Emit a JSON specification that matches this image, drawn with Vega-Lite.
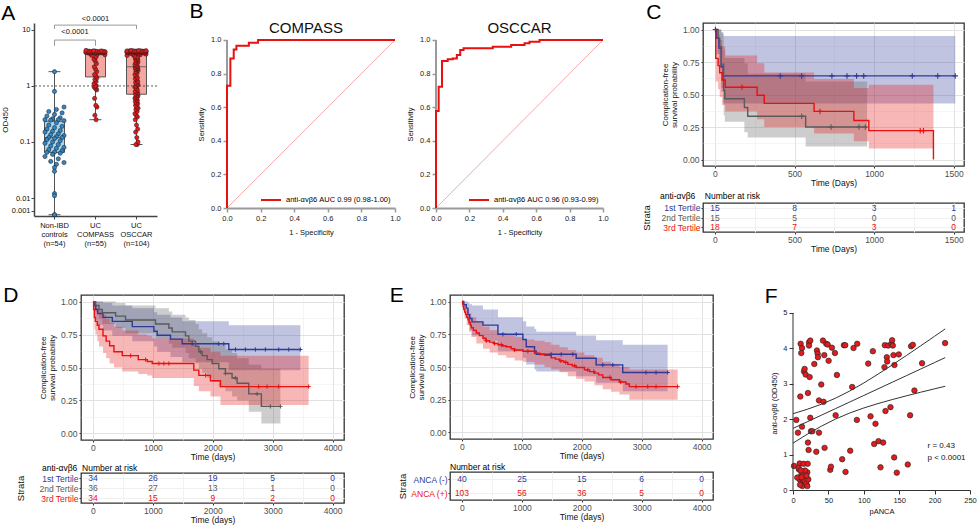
{
"$schema":"https://vega.github.io/schema/vega-lite/v6.json",
"padding":{"left":0,"top":0,"right":0,"bottom":0},
"background":"white",
"config":{"font":"Liberation Sans","view":{"stroke":null},
 "axis":{"labelFont":"Liberation Sans","titleFont":"Liberation Sans","titleFontWeight":"normal","labelFlush":false,"labelOverlap":false,"grid":false,"labelColor":"#222222","titleColor":"#111111","domainColor":"#333333","tickColor":"#333333"},
 "title":{"font":"Liberation Sans","fontWeight":"normal","color":"#000000"},
 "legend":{"labelFont":"Liberation Sans"},"text":{"font":"Liberation Sans"}},
"datasets":{
"a":[
{"g":"Non-IBD controls (n=54)","v":1.8},{"g":"Non-IBD controls (n=54)","v":0.8},{"g":"Non-IBD controls (n=54)","v":0.42},{"g":"Non-IBD controls (n=54)","v":0.38},{"g":"Non-IBD controls (n=54)","v":0.35},{"g":"Non-IBD controls (n=54)","v":0.33},{"g":"Non-IBD controls (n=54)","v":0.31},{"g":"Non-IBD controls (n=54)","v":0.29},{"g":"Non-IBD controls (n=54)","v":0.27},{"g":"Non-IBD controls (n=54)","v":0.26},{"g":"Non-IBD controls (n=54)","v":0.25},{"g":"Non-IBD controls (n=54)","v":0.25},{"g":"Non-IBD controls (n=54)","v":0.245},{"g":"Non-IBD controls (n=54)","v":0.24},{"g":"Non-IBD controls (n=54)","v":0.22},{"g":"Non-IBD controls (n=54)","v":0.2},{"g":"Non-IBD controls (n=54)","v":0.19},{"g":"Non-IBD controls (n=54)","v":0.18},{"g":"Non-IBD controls (n=54)","v":0.17},{"g":"Non-IBD controls (n=54)","v":0.16},{"g":"Non-IBD controls (n=54)","v":0.155},{"g":"Non-IBD controls (n=54)","v":0.15},{"g":"Non-IBD controls (n=54)","v":0.14},{"g":"Non-IBD controls (n=54)","v":0.135},{"g":"Non-IBD controls (n=54)","v":0.13},{"g":"Non-IBD controls (n=54)","v":0.125},{"g":"Non-IBD controls (n=54)","v":0.12},{"g":"Non-IBD controls (n=54)","v":0.12},{"g":"Non-IBD controls (n=54)","v":0.115},{"g":"Non-IBD controls (n=54)","v":0.11},{"g":"Non-IBD controls (n=54)","v":0.105},{"g":"Non-IBD controls (n=54)","v":0.1},{"g":"Non-IBD controls (n=54)","v":0.095},{"g":"Non-IBD controls (n=54)","v":0.09},{"g":"Non-IBD controls (n=54)","v":0.085},{"g":"Non-IBD controls (n=54)","v":0.08},{"g":"Non-IBD controls (n=54)","v":0.077},{"g":"Non-IBD controls (n=54)","v":0.073},{"g":"Non-IBD controls (n=54)","v":0.07},{"g":"Non-IBD controls (n=54)","v":0.066},{"g":"Non-IBD controls (n=54)","v":0.065},{"g":"Non-IBD controls (n=54)","v":0.063},{"g":"Non-IBD controls (n=54)","v":0.06},{"g":"Non-IBD controls (n=54)","v":0.055},{"g":"Non-IBD controls (n=54)","v":0.05},{"g":"Non-IBD controls (n=54)","v":0.045},{"g":"Non-IBD controls (n=54)","v":0.043},{"g":"Non-IBD controls (n=54)","v":0.04},{"g":"Non-IBD controls (n=54)","v":0.035},{"g":"Non-IBD controls (n=54)","v":0.03},{"g":"Non-IBD controls (n=54)","v":0.012},{"g":"Non-IBD controls (n=54)","v":0.011},{"g":"Non-IBD controls (n=54)","v":0.0005},{"g":"Non-IBD controls (n=54)","v":0.0005},
{"g":"UC COMPASS (n=55)","v":0.25},{"g":"UC COMPASS (n=55)","v":0.3},{"g":"UC COMPASS (n=55)","v":0.42},{"g":"UC COMPASS (n=55)","v":0.45},{"g":"UC COMPASS (n=55)","v":0.6},{"g":"UC COMPASS (n=55)","v":0.85},{"g":"UC COMPASS (n=55)","v":0.9},{"g":"UC COMPASS (n=55)","v":0.95},{"g":"UC COMPASS (n=55)","v":1.0},{"g":"UC COMPASS (n=55)","v":1.0},{"g":"UC COMPASS (n=55)","v":1.1},{"g":"UC COMPASS (n=55)","v":1.2},{"g":"UC COMPASS (n=55)","v":1.3},{"g":"UC COMPASS (n=55)","v":1.4},{"g":"UC COMPASS (n=55)","v":1.5},{"g":"UC COMPASS (n=55)","v":1.6},{"g":"UC COMPASS (n=55)","v":1.8},{"g":"UC COMPASS (n=55)","v":2.0},{"g":"UC COMPASS (n=55)","v":2.2},{"g":"UC COMPASS (n=55)","v":2.5},{"g":"UC COMPASS (n=55)","v":2.8},{"g":"UC COMPASS (n=55)","v":3.0},{"g":"UC COMPASS (n=55)","v":3.3},{"g":"UC COMPASS (n=55)","v":3.5},{"g":"UC COMPASS (n=55)","v":3.6},{"g":"UC COMPASS (n=55)","v":3.7},{"g":"UC COMPASS (n=55)","v":3.8},{"g":"UC COMPASS (n=55)","v":3.88},{"g":"UC COMPASS (n=55)","v":3.9},{"g":"UC COMPASS (n=55)","v":3.9},{"g":"UC COMPASS (n=55)","v":3.92},{"g":"UC COMPASS (n=55)","v":3.93},{"g":"UC COMPASS (n=55)","v":3.94},{"g":"UC COMPASS (n=55)","v":3.95},{"g":"UC COMPASS (n=55)","v":3.96},{"g":"UC COMPASS (n=55)","v":3.97},{"g":"UC COMPASS (n=55)","v":3.98},{"g":"UC COMPASS (n=55)","v":3.99},{"g":"UC COMPASS (n=55)","v":4.0},{"g":"UC COMPASS (n=55)","v":4.0},{"g":"UC COMPASS (n=55)","v":4.0},{"g":"UC COMPASS (n=55)","v":4.02},{"g":"UC COMPASS (n=55)","v":4.05},{"g":"UC COMPASS (n=55)","v":4.05},{"g":"UC COMPASS (n=55)","v":4.08},{"g":"UC COMPASS (n=55)","v":4.1},{"g":"UC COMPASS (n=55)","v":4.1},{"g":"UC COMPASS (n=55)","v":4.12},{"g":"UC COMPASS (n=55)","v":4.15},{"g":"UC COMPASS (n=55)","v":4.15},{"g":"UC COMPASS (n=55)","v":4.18},{"g":"UC COMPASS (n=55)","v":4.2},{"g":"UC COMPASS (n=55)","v":4.22},{"g":"UC COMPASS (n=55)","v":4.25},{"g":"UC COMPASS (n=55)","v":4.3},
{"g":"UC OSCCAR (n=104)","v":0.09},{"g":"UC OSCCAR (n=104)","v":0.09},{"g":"UC OSCCAR (n=104)","v":0.1},{"g":"UC OSCCAR (n=104)","v":0.12},{"g":"UC OSCCAR (n=104)","v":0.15},{"g":"UC OSCCAR (n=104)","v":0.17},{"g":"UC OSCCAR (n=104)","v":0.2},{"g":"UC OSCCAR (n=104)","v":0.25},{"g":"UC OSCCAR (n=104)","v":0.28},{"g":"UC OSCCAR (n=104)","v":0.3},{"g":"UC OSCCAR (n=104)","v":0.32},{"g":"UC OSCCAR (n=104)","v":0.35},{"g":"UC OSCCAR (n=104)","v":0.38},{"g":"UC OSCCAR (n=104)","v":0.4},{"g":"UC OSCCAR (n=104)","v":0.42},{"g":"UC OSCCAR (n=104)","v":0.45},{"g":"UC OSCCAR (n=104)","v":0.48},{"g":"UC OSCCAR (n=104)","v":0.5},{"g":"UC OSCCAR (n=104)","v":0.52},{"g":"UC OSCCAR (n=104)","v":0.55},{"g":"UC OSCCAR (n=104)","v":0.58},{"g":"UC OSCCAR (n=104)","v":0.6},{"g":"UC OSCCAR (n=104)","v":0.62},{"g":"UC OSCCAR (n=104)","v":0.65},{"g":"UC OSCCAR (n=104)","v":0.67},{"g":"UC OSCCAR (n=104)","v":0.69},
{"g":"UC OSCCAR (n=104)","v":0.72},{"g":"UC OSCCAR (n=104)","v":0.75},{"g":"UC OSCCAR (n=104)","v":0.78},{"g":"UC OSCCAR (n=104)","v":0.8},{"g":"UC OSCCAR (n=104)","v":0.85},{"g":"UC OSCCAR (n=104)","v":0.9},{"g":"UC OSCCAR (n=104)","v":0.95},{"g":"UC OSCCAR (n=104)","v":1.0},{"g":"UC OSCCAR (n=104)","v":1.0},{"g":"UC OSCCAR (n=104)","v":1.05},{"g":"UC OSCCAR (n=104)","v":1.1},{"g":"UC OSCCAR (n=104)","v":1.15},{"g":"UC OSCCAR (n=104)","v":1.2},{"g":"UC OSCCAR (n=104)","v":1.3},{"g":"UC OSCCAR (n=104)","v":1.35},{"g":"UC OSCCAR (n=104)","v":1.4},{"g":"UC OSCCAR (n=104)","v":1.5},{"g":"UC OSCCAR (n=104)","v":1.6},{"g":"UC OSCCAR (n=104)","v":1.7},{"g":"UC OSCCAR (n=104)","v":1.8},{"g":"UC OSCCAR (n=104)","v":1.9},{"g":"UC OSCCAR (n=104)","v":1.95},{"g":"UC OSCCAR (n=104)","v":2.0},{"g":"UC OSCCAR (n=104)","v":2.05},{"g":"UC OSCCAR (n=104)","v":2.1},{"g":"UC OSCCAR (n=104)","v":2.15},
{"g":"UC OSCCAR (n=104)","v":2.25},{"g":"UC OSCCAR (n=104)","v":2.3},{"g":"UC OSCCAR (n=104)","v":2.4},{"g":"UC OSCCAR (n=104)","v":2.5},{"g":"UC OSCCAR (n=104)","v":2.6},{"g":"UC OSCCAR (n=104)","v":2.7},{"g":"UC OSCCAR (n=104)","v":2.8},{"g":"UC OSCCAR (n=104)","v":2.9},{"g":"UC OSCCAR (n=104)","v":3.0},{"g":"UC OSCCAR (n=104)","v":3.1},{"g":"UC OSCCAR (n=104)","v":3.2},{"g":"UC OSCCAR (n=104)","v":3.3},{"g":"UC OSCCAR (n=104)","v":3.4},{"g":"UC OSCCAR (n=104)","v":3.5},{"g":"UC OSCCAR (n=104)","v":3.6},{"g":"UC OSCCAR (n=104)","v":3.65},{"g":"UC OSCCAR (n=104)","v":3.7},{"g":"UC OSCCAR (n=104)","v":3.75},{"g":"UC OSCCAR (n=104)","v":3.8},{"g":"UC OSCCAR (n=104)","v":3.85},{"g":"UC OSCCAR (n=104)","v":3.9},{"g":"UC OSCCAR (n=104)","v":3.92},{"g":"UC OSCCAR (n=104)","v":3.95},{"g":"UC OSCCAR (n=104)","v":3.97},{"g":"UC OSCCAR (n=104)","v":3.98},{"g":"UC OSCCAR (n=104)","v":3.99},
{"g":"UC OSCCAR (n=104)","v":4.01},{"g":"UC OSCCAR (n=104)","v":4.02},{"g":"UC OSCCAR (n=104)","v":4.03},{"g":"UC OSCCAR (n=104)","v":4.05},{"g":"UC OSCCAR (n=104)","v":4.05},{"g":"UC OSCCAR (n=104)","v":4.06},{"g":"UC OSCCAR (n=104)","v":4.08},{"g":"UC OSCCAR (n=104)","v":4.08},{"g":"UC OSCCAR (n=104)","v":4.1},{"g":"UC OSCCAR (n=104)","v":4.1},{"g":"UC OSCCAR (n=104)","v":4.1},{"g":"UC OSCCAR (n=104)","v":4.12},{"g":"UC OSCCAR (n=104)","v":4.12},{"g":"UC OSCCAR (n=104)","v":4.14},{"g":"UC OSCCAR (n=104)","v":4.15},{"g":"UC OSCCAR (n=104)","v":4.15},{"g":"UC OSCCAR (n=104)","v":4.17},{"g":"UC OSCCAR (n=104)","v":4.18},{"g":"UC OSCCAR (n=104)","v":4.2},{"g":"UC OSCCAR (n=104)","v":4.2},{"g":"UC OSCCAR (n=104)","v":4.22},{"g":"UC OSCCAR (n=104)","v":4.24},{"g":"UC OSCCAR (n=104)","v":4.25},{"g":"UC OSCCAR (n=104)","v":4.27},{"g":"UC OSCCAR (n=104)","v":4.28},{"g":"UC OSCCAR (n=104)","v":4.3}
],
"rc":[{"fpr":0,"tpr":0,"lab":"anti-αvβ6 AUC 0.99 (0.98-1.00)"},{"fpr":0,"tpr":0.728,"lab":"anti-αvβ6 AUC 0.99 (0.98-1.00)"},{"fpr":0.02,"tpr":0.89,"lab":"anti-αvβ6 AUC 0.99 (0.98-1.00)"},{"fpr":0.04,"tpr":0.944,"lab":"anti-αvβ6 AUC 0.99 (0.98-1.00)"},{"fpr":0.056,"tpr":0.966,"lab":"anti-αvβ6 AUC 0.99 (0.98-1.00)"},{"fpr":0.13,"tpr":0.984,"lab":"anti-αvβ6 AUC 0.99 (0.98-1.00)"},{"fpr":0.185,"tpr":1,"lab":"anti-αvβ6 AUC 0.99 (0.98-1.00)"},{"fpr":1,"tpr":1,"lab":"anti-αvβ6 AUC 0.99 (0.98-1.00)"}],
"ro":[{"fpr":0,"tpr":0,"lab":"anti-αvβ6 AUC 0.96 (0.93-0.99)"},{"fpr":0,"tpr":0.577,"lab":"anti-αvβ6 AUC 0.96 (0.93-0.99)"},{"fpr":0.016,"tpr":0.722,"lab":"anti-αvβ6 AUC 0.96 (0.93-0.99)"},{"fpr":0.036,"tpr":0.875,"lab":"anti-αvβ6 AUC 0.96 (0.93-0.99)"},{"fpr":0.07,"tpr":0.885,"lab":"anti-αvβ6 AUC 0.96 (0.93-0.99)"},{"fpr":0.1,"tpr":0.89,"lab":"anti-αvβ6 AUC 0.96 (0.93-0.99)"},{"fpr":0.125,"tpr":0.911,"lab":"anti-αvβ6 AUC 0.96 (0.93-0.99)"},{"fpr":0.145,"tpr":0.94,"lab":"anti-αvβ6 AUC 0.96 (0.93-0.99)"},{"fpr":0.165,"tpr":0.95,"lab":"anti-αvβ6 AUC 0.96 (0.93-0.99)"},{"fpr":0.34,"tpr":0.96,"lab":"anti-αvβ6 AUC 0.96 (0.93-0.99)"},{"fpr":0.45,"tpr":0.97,"lab":"anti-αvβ6 AUC 0.96 (0.93-0.99)"},{"fpr":0.53,"tpr":0.98,"lab":"anti-αvβ6 AUC 0.96 (0.93-0.99)"},{"fpr":0.56,"tpr":0.99,"lab":"anti-αvβ6 AUC 0.96 (0.93-0.99)"},{"fpr":0.62,"tpr":1,"lab":"anti-αvβ6 AUC 0.96 (0.93-0.99)"},{"fpr":1,"tpr":1,"lab":"anti-αvβ6 AUC 0.96 (0.93-0.99)"}],
"kc_l":[{"s":"1st Tertile","t":0,"p":1},{"s":"1st Tertile","t":10,"p":0.933},{"s":"1st Tertile","t":25,"p":0.857},{"s":"1st Tertile","t":40,"p":0.714},{"s":"1st Tertile","t":52,"p":0.643},{"s":"1st Tertile","t":1510,"p":0.643},
{"s":"2nd Tertile","t":0,"p":1},{"s":"2nd Tertile","t":20,"p":0.933},{"s":"2nd Tertile","t":30,"p":0.867},{"s":"2nd Tertile","t":40,"p":0.733},{"s":"2nd Tertile","t":55,"p":0.533},{"s":"2nd Tertile","t":62,"p":0.467},{"s":"2nd Tertile","t":185,"p":0.4},{"s":"2nd Tertile","t":206,"p":0.333},{"s":"2nd Tertile","t":570,"p":0.25},{"s":"2nd Tertile","t":956,"p":0.25},
{"s":"3rd Tertile","t":0,"p":1},{"s":"3rd Tertile","t":5,"p":0.778},{"s":"3rd Tertile","t":20,"p":0.722},{"s":"3rd Tertile","t":30,"p":0.667},{"s":"3rd Tertile","t":45,"p":0.611},{"s":"3rd Tertile","t":65,"p":0.556},{"s":"3rd Tertile","t":265,"p":0.494},{"s":"3rd Tertile","t":310,"p":0.432},{"s":"3rd Tertile","t":623,"p":0.37},{"s":"3rd Tertile","t":873,"p":0.3},{"s":"3rd Tertile","t":967,"p":0.222},{"s":"3rd Tertile","t":1373,"p":0}],
"kc_ci":[{"s":"1st Tertile","t":0,"lo":1,"hi":1},{"s":"1st Tertile","t":10,"lo":0.81,"hi":1},{"s":"1st Tertile","t":25,"lo":0.7,"hi":1},{"s":"1st Tertile","t":40,"lo":0.52,"hi":0.98},{"s":"1st Tertile","t":52,"lo":0.43,"hi":0.95},{"s":"1st Tertile","t":1510,"lo":0.43,"hi":0.95},
{"s":"2nd Tertile","t":0,"lo":1,"hi":1},{"s":"2nd Tertile","t":20,"lo":0.81,"hi":1},{"s":"2nd Tertile","t":30,"lo":0.71,"hi":1},{"s":"2nd Tertile","t":40,"lo":0.55,"hi":0.97},{"s":"2nd Tertile","t":55,"lo":0.34,"hi":0.84},{"s":"2nd Tertile","t":62,"lo":0.29,"hi":0.78},{"s":"2nd Tertile","t":185,"lo":0.21,"hi":0.74},{"s":"2nd Tertile","t":206,"lo":0.17,"hi":0.66},{"s":"2nd Tertile","t":570,"lo":0.1,"hi":0.6},{"s":"2nd Tertile","t":956,"lo":0.1,"hi":0.6},
{"s":"3rd Tertile","t":0,"lo":1,"hi":1},{"s":"3rd Tertile","t":5,"lo":0.6,"hi":0.99},{"s":"3rd Tertile","t":20,"lo":0.54,"hi":0.96},{"s":"3rd Tertile","t":30,"lo":0.48,"hi":0.92},{"s":"3rd Tertile","t":45,"lo":0.42,"hi":0.87},{"s":"3rd Tertile","t":65,"lo":0.37,"hi":0.8},{"s":"3rd Tertile","t":265,"lo":0.31,"hi":0.74},{"s":"3rd Tertile","t":310,"lo":0.25,"hi":0.67},{"s":"3rd Tertile","t":623,"lo":0.2,"hi":0.62},{"s":"3rd Tertile","t":873,"lo":0.14,"hi":0.55},{"s":"3rd Tertile","t":967,"lo":0.085,"hi":0.575},{"s":"3rd Tertile","t":1373,"lo":0.085,"hi":0.575}],
"kc_c":[{"s":"1st Tertile","t":3,"p":1},{"s":"1st Tertile","t":410,"p":0.643},{"s":"1st Tertile","t":545,"p":0.643},{"s":"1st Tertile","t":735,"p":0.643},{"s":"1st Tertile","t":830,"p":0.643},{"s":"1st Tertile","t":890,"p":0.643},{"s":"1st Tertile","t":935,"p":0.643},{"s":"1st Tertile","t":1240,"p":0.643},{"s":"1st Tertile","t":1400,"p":0.643},{"s":"1st Tertile","t":1510,"p":0.643},
{"s":"2nd Tertile","t":545,"p":0.333},{"s":"2nd Tertile","t":730,"p":0.25},{"s":"2nd Tertile","t":905,"p":0.25},{"s":"2nd Tertile","t":945,"p":0.25},
{"s":"3rd Tertile","t":170,"p":0.556},{"s":"3rd Tertile","t":660,"p":0.37},{"s":"3rd Tertile","t":1290,"p":0.222},{"s":"3rd Tertile","t":1310,"p":0.222}],
"kc_r":[{"s":"1st Tertile","t":0,"n":15},{"s":"1st Tertile","t":500,"n":8},{"s":"1st Tertile","t":1000,"n":3},{"s":"1st Tertile","t":1500,"n":1},{"s":"2nd Tertile","t":0,"n":15},{"s":"2nd Tertile","t":500,"n":5},{"s":"2nd Tertile","t":1000,"n":0},{"s":"2nd Tertile","t":1500,"n":0},{"s":"3rd Tertile","t":0,"n":18},{"s":"3rd Tertile","t":500,"n":7},{"s":"3rd Tertile","t":1000,"n":3},{"s":"3rd Tertile","t":1500,"n":0}],
"kd_l":[{"s":"1st Tertile","t":0,"p":1},{"s":"1st Tertile","t":20,"p":0.97},{"s":"1st Tertile","t":45,"p":0.94},{"s":"1st Tertile","t":80,"p":0.91},{"s":"1st Tertile","t":167,"p":0.88},{"s":"1st Tertile","t":322,"p":0.85},{"s":"1st Tertile","t":656,"p":0.81},{"s":"1st Tertile","t":1017,"p":0.775},{"s":"1st Tertile","t":1072,"p":0.745},{"s":"1st Tertile","t":1294,"p":0.715},{"s":"1st Tertile","t":1489,"p":0.68},{"s":"1st Tertile","t":2267,"p":0.637},{"s":"1st Tertile","t":3461,"p":0.637},
{"s":"2nd Tertile","t":0,"p":1},{"s":"2nd Tertile","t":44,"p":0.97},{"s":"2nd Tertile","t":100,"p":0.94},{"s":"2nd Tertile","t":156,"p":0.915},{"s":"2nd Tertile","t":378,"p":0.89},{"s":"2nd Tertile","t":544,"p":0.86},{"s":"2nd Tertile","t":1044,"p":0.83},{"s":"2nd Tertile","t":1267,"p":0.8},{"s":"2nd Tertile","t":1322,"p":0.77},{"s":"2nd Tertile","t":1544,"p":0.74},{"s":"2nd Tertile","t":1600,"p":0.7},{"s":"2nd Tertile","t":1711,"p":0.66},{"s":"2nd Tertile","t":1767,"p":0.62},{"s":"2nd Tertile","t":1822,"p":0.59},{"s":"2nd Tertile","t":1906,"p":0.56},{"s":"2nd Tertile","t":1989,"p":0.53},{"s":"2nd Tertile","t":2100,"p":0.49},{"s":"2nd Tertile","t":2211,"p":0.455},{"s":"2nd Tertile","t":2322,"p":0.42},{"s":"2nd Tertile","t":2406,"p":0.38},{"s":"2nd Tertile","t":2600,"p":0.3},{"s":"2nd Tertile","t":2811,"p":0.205},{"s":"2nd Tertile","t":3128,"p":0.205},
{"s":"3rd Tertile","t":0,"p":1},{"s":"3rd Tertile","t":10,"p":0.94},{"s":"3rd Tertile","t":25,"p":0.88},{"s":"3rd Tertile","t":40,"p":0.85},{"s":"3rd Tertile","t":72,"p":0.82},{"s":"3rd Tertile","t":100,"p":0.79},{"s":"3rd Tertile","t":167,"p":0.74},{"s":"3rd Tertile","t":220,"p":0.7},{"s":"3rd Tertile","t":278,"p":0.665},{"s":"3rd Tertile","t":350,"p":0.62},{"s":"3rd Tertile","t":489,"p":0.59},{"s":"3rd Tertile","t":756,"p":0.56},{"s":"3rd Tertile","t":906,"p":0.545},{"s":"3rd Tertile","t":989,"p":0.53},{"s":"3rd Tertile","t":1683,"p":0.48},{"s":"3rd Tertile","t":1767,"p":0.44},{"s":"3rd Tertile","t":1961,"p":0.4},{"s":"3rd Tertile","t":2128,"p":0.355},{"s":"3rd Tertile","t":3600,"p":0.355}],
"kd_ci":[{"s":"1st Tertile","t":0,"lo":1,"hi":1},{"s":"1st Tertile","t":20,"lo":0.94,"hi":1},{"s":"1st Tertile","t":45,"lo":0.86,"hi":1},{"s":"1st Tertile","t":80,"lo":0.82,"hi":1},{"s":"1st Tertile","t":167,"lo":0.78,"hi":0.99},{"s":"1st Tertile","t":322,"lo":0.74,"hi":0.97},{"s":"1st Tertile","t":656,"lo":0.7,"hi":0.95},{"s":"1st Tertile","t":1017,"lo":0.66,"hi":0.92},{"s":"1st Tertile","t":1072,"lo":0.62,"hi":0.9},{"s":"1st Tertile","t":1294,"lo":0.58,"hi":0.88},{"s":"1st Tertile","t":1489,"lo":0.54,"hi":0.85},{"s":"1st Tertile","t":2267,"lo":0.48,"hi":0.82},{"s":"1st Tertile","t":3461,"lo":0.48,"hi":0.82},
{"s":"2nd Tertile","t":0,"lo":1,"hi":1},{"s":"2nd Tertile","t":44,"lo":0.92,"hi":1},{"s":"2nd Tertile","t":100,"lo":0.87,"hi":1},{"s":"2nd Tertile","t":156,"lo":0.83,"hi":1},{"s":"2nd Tertile","t":378,"lo":0.8,"hi":0.99},{"s":"2nd Tertile","t":544,"lo":0.76,"hi":0.97},{"s":"2nd Tertile","t":1044,"lo":0.72,"hi":0.95},{"s":"2nd Tertile","t":1267,"lo":0.68,"hi":0.925},{"s":"2nd Tertile","t":1322,"lo":0.65,"hi":0.9},{"s":"2nd Tertile","t":1544,"lo":0.61,"hi":0.88},{"s":"2nd Tertile","t":1600,"lo":0.57,"hi":0.86},{"s":"2nd Tertile","t":1711,"lo":0.53,"hi":0.83},{"s":"2nd Tertile","t":1767,"lo":0.49,"hi":0.79},{"s":"2nd Tertile","t":1822,"lo":0.46,"hi":0.76},{"s":"2nd Tertile","t":1906,"lo":0.42,"hi":0.73},{"s":"2nd Tertile","t":1989,"lo":0.39,"hi":0.7},{"s":"2nd Tertile","t":2100,"lo":0.35,"hi":0.67},{"s":"2nd Tertile","t":2211,"lo":0.32,"hi":0.64},{"s":"2nd Tertile","t":2322,"lo":0.28,"hi":0.61},{"s":"2nd Tertile","t":2406,"lo":0.25,"hi":0.57},{"s":"2nd Tertile","t":2600,"lo":0.165,"hi":0.52},{"s":"2nd Tertile","t":2811,"lo":0.075,"hi":0.49},{"s":"2nd Tertile","t":3128,"lo":0.075,"hi":0.49},
{"s":"3rd Tertile","t":0,"lo":1,"hi":1},{"s":"3rd Tertile","t":10,"lo":0.87,"hi":1},{"s":"3rd Tertile","t":25,"lo":0.79,"hi":0.99},{"s":"3rd Tertile","t":40,"lo":0.75,"hi":0.97},{"s":"3rd Tertile","t":72,"lo":0.7,"hi":0.95},{"s":"3rd Tertile","t":100,"lo":0.66,"hi":0.93},{"s":"3rd Tertile","t":167,"lo":0.61,"hi":0.9},{"s":"3rd Tertile","t":220,"lo":0.57,"hi":0.87},{"s":"3rd Tertile","t":278,"lo":0.53,"hi":0.84},{"s":"3rd Tertile","t":350,"lo":0.5,"hi":0.81},{"s":"3rd Tertile","t":489,"lo":0.47,"hi":0.78},{"s":"3rd Tertile","t":756,"lo":0.45,"hi":0.75},{"s":"3rd Tertile","t":906,"lo":0.44,"hi":0.74},{"s":"3rd Tertile","t":989,"lo":0.42,"hi":0.72},{"s":"3rd Tertile","t":1683,"lo":0.36,"hi":0.68},{"s":"3rd Tertile","t":1767,"lo":0.32,"hi":0.65},{"s":"3rd Tertile","t":1961,"lo":0.28,"hi":0.62},{"s":"3rd Tertile","t":2128,"lo":0.215,"hi":0.59},{"s":"3rd Tertile","t":3600,"lo":0.215,"hi":0.59}],
"kd_c":[{"s":"1st Tertile","t":1656,"p":0.68},{"s":"1st Tertile","t":2100,"p":0.68},{"s":"1st Tertile","t":2183,"p":0.68},{"s":"1st Tertile","t":2378,"p":0.637},{"s":"1st Tertile","t":2544,"p":0.637},{"s":"1st Tertile","t":2711,"p":0.637},{"s":"1st Tertile","t":2878,"p":0.637},{"s":"1st Tertile","t":3100,"p":0.637},{"s":"1st Tertile","t":3267,"p":0.637},{"s":"1st Tertile","t":3461,"p":0.637},
{"s":"2nd Tertile","t":1794,"p":0.62},{"s":"2nd Tertile","t":2211,"p":0.455},{"s":"2nd Tertile","t":2378,"p":0.42},{"s":"2nd Tertile","t":2739,"p":0.3},{"s":"2nd Tertile","t":2961,"p":0.205},{"s":"2nd Tertile","t":3128,"p":0.205},
{"s":"3rd Tertile","t":628,"p":0.59},{"s":"3rd Tertile","t":878,"p":0.56},{"s":"3rd Tertile","t":1100,"p":0.53},{"s":"3rd Tertile","t":1183,"p":0.53},{"s":"3rd Tertile","t":1267,"p":0.53},{"s":"3rd Tertile","t":1880,"p":0.44},{"s":"3rd Tertile","t":2767,"p":0.355},{"s":"3rd Tertile","t":2906,"p":0.355},{"s":"3rd Tertile","t":3100,"p":0.355},{"s":"3rd Tertile","t":3600,"p":0.355}],
"kd_r":[{"s":"1st Tertile","t":0,"n":34},{"s":"1st Tertile","t":1000,"n":26},{"s":"1st Tertile","t":2000,"n":19},{"s":"1st Tertile","t":3000,"n":5},{"s":"1st Tertile","t":4000,"n":0},{"s":"2nd Tertile","t":0,"n":36},{"s":"2nd Tertile","t":1000,"n":27},{"s":"2nd Tertile","t":2000,"n":13},{"s":"2nd Tertile","t":3000,"n":1},{"s":"2nd Tertile","t":4000,"n":0},{"s":"3rd Tertile","t":0,"n":34},{"s":"3rd Tertile","t":1000,"n":15},{"s":"3rd Tertile","t":2000,"n":9},{"s":"3rd Tertile","t":3000,"n":2},{"s":"3rd Tertile","t":4000,"n":0}],
"ke_l":[{"s":"ANCA (-)","t":0,"p":1},{"s":"ANCA (-)","t":30,"p":0.975},{"s":"ANCA (-)","t":72,"p":0.95},{"s":"ANCA (-)","t":100,"p":0.9},{"s":"ANCA (-)","t":128,"p":0.87},{"s":"ANCA (-)","t":167,"p":0.845},{"s":"ANCA (-)","t":350,"p":0.82},{"s":"ANCA (-)","t":600,"p":0.75},{"s":"ANCA (-)","t":1017,"p":0.71},{"s":"ANCA (-)","t":1072,"p":0.655},{"s":"ANCA (-)","t":1211,"p":0.62},{"s":"ANCA (-)","t":1239,"p":0.597},{"s":"ANCA (-)","t":1906,"p":0.567},{"s":"ANCA (-)","t":2239,"p":0.516},{"s":"ANCA (-)","t":2683,"p":0.458},{"s":"ANCA (-)","t":3433,"p":0.458},
{"s":"ANCA (+)","t":0,"p":1},{"s":"ANCA (+)","t":10,"p":0.98},{"s":"ANCA (+)","t":20,"p":0.96},{"s":"ANCA (+)","t":30,"p":0.94},{"s":"ANCA (+)","t":44,"p":0.92},{"s":"ANCA (+)","t":60,"p":0.9},{"s":"ANCA (+)","t":80,"p":0.88},{"s":"ANCA (+)","t":100,"p":0.86},{"s":"ANCA (+)","t":120,"p":0.84},{"s":"ANCA (+)","t":140,"p":0.82},{"s":"ANCA (+)","t":156,"p":0.8},{"s":"ANCA (+)","t":190,"p":0.78},{"s":"ANCA (+)","t":239,"p":0.76},{"s":"ANCA (+)","t":290,"p":0.74},{"s":"ANCA (+)","t":350,"p":0.72},{"s":"ANCA (+)","t":400,"p":0.7},{"s":"ANCA (+)","t":461,"p":0.69},{"s":"ANCA (+)","t":530,"p":0.68},{"s":"ANCA (+)","t":600,"p":0.67},{"s":"ANCA (+)","t":680,"p":0.66},{"s":"ANCA (+)","t":739,"p":0.655},{"s":"ANCA (+)","t":820,"p":0.64},{"s":"ANCA (+)","t":878,"p":0.63},{"s":"ANCA (+)","t":1017,"p":0.62},{"s":"ANCA (+)","t":1211,"p":0.605},{"s":"ANCA (+)","t":1300,"p":0.595},{"s":"ANCA (+)","t":1378,"p":0.59},{"s":"ANCA (+)","t":1489,"p":0.57},{"s":"ANCA (+)","t":1560,"p":0.56},{"s":"ANCA (+)","t":1628,"p":0.547},{"s":"ANCA (+)","t":1700,"p":0.535},{"s":"ANCA (+)","t":1767,"p":0.52},{"s":"ANCA (+)","t":1840,"p":0.51},{"s":"ANCA (+)","t":1906,"p":0.496},{"s":"ANCA (+)","t":2044,"p":0.478},{"s":"ANCA (+)","t":2130,"p":0.465},{"s":"ANCA (+)","t":2211,"p":0.453},{"s":"ANCA (+)","t":2280,"p":0.44},{"s":"ANCA (+)","t":2350,"p":0.42},{"s":"ANCA (+)","t":2489,"p":0.403},{"s":"ANCA (+)","t":2628,"p":0.385},{"s":"ANCA (+)","t":2739,"p":0.37},{"s":"ANCA (+)","t":2794,"p":0.35},{"s":"ANCA (+)","t":3600,"p":0.35}],
"ke_ci":[{"s":"ANCA (-)","t":0,"lo":1,"hi":1},{"s":"ANCA (-)","t":30,"lo":0.93,"hi":1},{"s":"ANCA (-)","t":72,"lo":0.88,"hi":1},{"s":"ANCA (-)","t":100,"lo":0.82,"hi":0.99},{"s":"ANCA (-)","t":128,"lo":0.78,"hi":0.98},{"s":"ANCA (-)","t":167,"lo":0.74,"hi":0.97},{"s":"ANCA (-)","t":350,"lo":0.7,"hi":0.94},{"s":"ANCA (-)","t":600,"lo":0.62,"hi":0.88},{"s":"ANCA (-)","t":1017,"lo":0.57,"hi":0.85},{"s":"ANCA (-)","t":1072,"lo":0.52,"hi":0.81},{"s":"ANCA (-)","t":1211,"lo":0.48,"hi":0.79},{"s":"ANCA (-)","t":1239,"lo":0.465,"hi":0.77},{"s":"ANCA (-)","t":1906,"lo":0.43,"hi":0.74},{"s":"ANCA (-)","t":2239,"lo":0.38,"hi":0.705},{"s":"ANCA (-)","t":2683,"lo":0.315,"hi":0.67},{"s":"ANCA (-)","t":3433,"lo":0.315,"hi":0.67},
{"s":"ANCA (+)","t":0,"lo":1,"hi":1},{"s":"ANCA (+)","t":20,"lo":0.93,"hi":0.99},{"s":"ANCA (+)","t":44,"lo":0.87,"hi":0.97},{"s":"ANCA (+)","t":80,"lo":0.82,"hi":0.94},{"s":"ANCA (+)","t":120,"lo":0.77,"hi":0.91},{"s":"ANCA (+)","t":156,"lo":0.73,"hi":0.88},{"s":"ANCA (+)","t":239,"lo":0.68,"hi":0.85},{"s":"ANCA (+)","t":350,"lo":0.64,"hi":0.81},{"s":"ANCA (+)","t":461,"lo":0.61,"hi":0.78},{"s":"ANCA (+)","t":600,"lo":0.59,"hi":0.76},{"s":"ANCA (+)","t":739,"lo":0.57,"hi":0.75},{"s":"ANCA (+)","t":878,"lo":0.55,"hi":0.73},{"s":"ANCA (+)","t":1017,"lo":0.54,"hi":0.71},{"s":"ANCA (+)","t":1211,"lo":0.52,"hi":0.7},{"s":"ANCA (+)","t":1378,"lo":0.5,"hi":0.69},{"s":"ANCA (+)","t":1489,"lo":0.48,"hi":0.67},{"s":"ANCA (+)","t":1628,"lo":0.46,"hi":0.65},{"s":"ANCA (+)","t":1767,"lo":0.43,"hi":0.63},{"s":"ANCA (+)","t":1906,"lo":0.41,"hi":0.61},{"s":"ANCA (+)","t":2044,"lo":0.39,"hi":0.59},{"s":"ANCA (+)","t":2211,"lo":0.36,"hi":0.57},{"s":"ANCA (+)","t":2350,"lo":0.33,"hi":0.54},{"s":"ANCA (+)","t":2489,"lo":0.31,"hi":0.52},{"s":"ANCA (+)","t":2628,"lo":0.29,"hi":0.5},{"s":"ANCA (+)","t":2794,"lo":0.25,"hi":0.48},{"s":"ANCA (+)","t":3600,"lo":0.25,"hi":0.48}],
"ke_c":[{"s":"ANCA (-)","t":683,"p":0.75},{"s":"ANCA (-)","t":906,"p":0.75},{"s":"ANCA (-)","t":1489,"p":0.597},{"s":"ANCA (-)","t":1656,"p":0.597},{"s":"ANCA (-)","t":1850,"p":0.597},{"s":"ANCA (-)","t":2350,"p":0.516},{"s":"ANCA (-)","t":2517,"p":0.516},{"s":"ANCA (-)","t":3072,"p":0.458},{"s":"ANCA (-)","t":3239,"p":0.458},{"s":"ANCA (-)","t":3433,"p":0.458},
{"s":"ANCA (+)","t":406,"p":0.7},{"s":"ANCA (+)","t":544,"p":0.68},{"s":"ANCA (+)","t":656,"p":0.67},{"s":"ANCA (+)","t":878,"p":0.63},{"s":"ANCA (+)","t":1100,"p":0.62},{"s":"ANCA (+)","t":1650,"p":0.547},{"s":"ANCA (+)","t":1733,"p":0.535},{"s":"ANCA (+)","t":1880,"p":0.51},{"s":"ANCA (+)","t":2100,"p":0.478},{"s":"ANCA (+)","t":2200,"p":0.465},{"s":"ANCA (+)","t":2470,"p":0.42},{"s":"ANCA (+)","t":2650,"p":0.385},{"s":"ANCA (+)","t":2906,"p":0.35},{"s":"ANCA (+)","t":3100,"p":0.35},{"s":"ANCA (+)","t":3239,"p":0.35},{"s":"ANCA (+)","t":3600,"p":0.35}],
"ke_r":[{"s":"ANCA (-)","t":0,"n":40},{"s":"ANCA (-)","t":1000,"n":25},{"s":"ANCA (-)","t":2000,"n":15},{"s":"ANCA (-)","t":3000,"n":6},{"s":"ANCA (-)","t":4000,"n":0},{"s":"ANCA (+)","t":0,"n":103},{"s":"ANCA (+)","t":1000,"n":56},{"s":"ANCA (+)","t":2000,"n":36},{"s":"ANCA (+)","t":3000,"n":5},{"s":"ANCA (+)","t":4000,"n":0}],
"fp":[{"x":1.4,"y":0.68},{"x":4.7,"y":1.98},{"x":7,"y":1.62},{"x":8.5,"y":0.58},{"x":9.4,"y":0.3},{"x":9.4,"y":0.75},{"x":10.3,"y":2.64},{"x":10.8,"y":4.13},{"x":11.7,"y":3.87},{"x":12.7,"y":4.01},{"x":12.7,"y":1.79},{"x":11.7,"y":0.42},{"x":13.2,"y":0.19},{"x":13.2,"y":0.11},{"x":14.1,"y":0.28},{"x":15,"y":0.74},{"x":14.1,"y":0.47},{"x":15.5,"y":3.35},{"x":16.4,"y":3.42},{"x":16.4,"y":0.26},{"x":17.9,"y":3.26},{"x":18.8,"y":0.19},{"x":20.2,"y":0.11},{"x":20.2,"y":0.5},{"x":20.7,"y":0.74},{"x":21.1,"y":2.74},{"x":21.1,"y":1.34},{"x":21.6,"y":0.3},{"x":22,"y":1.13},{"x":22.6,"y":4.17},{"x":22.6,"y":4.08},{"x":23.5,"y":3.19},{"x":24.4,"y":4.22},{"x":24.4,"y":2.04},{"x":25.4,"y":1.66},{"x":27.3,"y":1.66},{"x":30.1,"y":3.56},{"x":32.9,"y":1.08},{"x":33.8,"y":3.94},{"x":34.8,"y":3.85},{"x":35.2,"y":3.75},{"x":36.7,"y":2.53},{"x":36.7,"y":1.62},{"x":39.9,"y":2.98},{"x":42.3,"y":4.22},{"x":43.2,"y":2.49},{"x":44.2,"y":3.81},{"x":44.6,"y":1.19},{"x":47,"y":4.13},{"x":48.9,"y":4.11},{"x":50.3,"y":3.65},{"x":52.6,"y":0.57},{"x":53.6,"y":0.66},{"x":55,"y":4.02},{"x":59.2,"y":3.87},{"x":60.2,"y":2.11},{"x":62,"y":3.25},{"x":69.5,"y":0.87},{"x":71.9,"y":4.09},{"x":73.8,"y":4.09},{"x":74.2,"y":0.51},{"x":80.8,"y":1.11},{"x":83.6,"y":2.91},{"x":85.5,"y":4.01},{"x":90.2,"y":1.98},{"x":90.7,"y":4.13},{"x":106.2,"y":3.57},{"x":109.5,"y":2.08},{"x":112.8,"y":3.92},{"x":114.7,"y":1.3},{"x":116.5,"y":1.87},{"x":120.8,"y":1.38},{"x":123.6,"y":0.64},{"x":127.3,"y":1.34},{"x":129.2,"y":3.47},{"x":129.7,"y":4.09},{"x":130.6,"y":2.23},{"x":132.5,"y":3.75},{"x":133,"y":3.63},{"x":134.4,"y":4.08},{"x":137.7,"y":2.34},{"x":139.1,"y":4.13},{"x":140,"y":4.23},{"x":141,"y":4.08},{"x":141.9,"y":3.81},{"x":142.9,"y":0.92},{"x":143.3,"y":3.53},{"x":146.6,"y":0.49},{"x":149.4,"y":3.83},{"x":162.1,"y":0.72},{"x":165.4,"y":2.11},{"x":166.8,"y":4.06},{"x":169.2,"y":4.1},{"x":171.5,"y":2.81},{"x":182.3,"y":3.58},{"x":214.8,"y":4.15},{"x":6,"y":0.35},{"x":8,"y":0.62},{"x":10,"y":0.15},{"x":12,"y":0.36},{"x":17,"y":0.55},{"x":19,"y":0.4},{"x":11,"y":0.55}],
"fr":[{"x":0,"fit":1.74,"lo":1.325,"hi":2.155},{"x":20,"fit":1.926,"lo":1.573,"hi":2.279},{"x":40,"fit":2.112,"lo":1.802,"hi":2.422},{"x":60,"fit":2.298,"lo":2.003,"hi":2.593},{"x":80,"fit":2.484,"lo":2.174,"hi":2.794},{"x":100,"fit":2.67,"lo":2.317,"hi":3.023},{"x":120,"fit":2.856,"lo":2.441,"hi":3.271},{"x":140,"fit":3.042,"lo":2.554,"hi":3.53},{"x":160,"fit":3.228,"lo":2.659,"hi":3.797},{"x":180,"fit":3.414,"lo":2.76,"hi":4.068},{"x":200,"fit":3.6,"lo":2.858,"hi":4.342},{"x":215,"fit":3.74,"lo":2.93,"hi":4.55}]
},
"resolve":{"scale":{"color":"independent","fill":"independent"}},
"spacing":31,
"vconcat":[
{"resolve":{"scale":{"color":"independent","fill":"independent"}},"spacing":32,"hconcat":[
 {"resolve":{"scale":{"color":"independent","fill":"independent"}},"spacing":31,"hconcat":[
  {"resolve":{"scale":{"color":"independent","fill":"independent"}},"spacing":0,"hconcat":[
   {"width":1,"height":1,"data":{"values":[]},"mark":"point"},
   {"width":123,"height":193,
    "title":{"text":"A","anchor":"start","frame":"bounds","fontSize":21,"dx":0,"offset":-9},
    "data":{"name":"a"},
    "layer":[
     {"transform":[{"filter":"datum.g == 'Non-IBD controls (n=54)'"}],
      "mark":{"type":"boxplot","extent":"min-max","size":20,"color":"#a8d8f0","box":{"stroke":"#555555","strokeWidth":1},"median":{"color":"#444444"},"rule":{"color":"#555555"},"ticks":{"color":"#555555","size":12}},
      "encoding":{
       "x":{"field":"g","type":"nominal","title":null,"scale":{"domain":["Non-IBD controls (n=54)","UC COMPASS (n=55)","UC OSCCAR (n=104)"],"paddingInner":0,"paddingOuter":0},"axis":{"title":null,"labelAngle":0,"labelExpr":"split(datum.label, ' ')","labelFontSize":7.5,"labelLineHeight":9,"labelPadding":2,"domainColor":"#444444","domainWidth":1.5,"tickColor":"#444444","tickSize":3,"labelColor":"#111111"}},
       "y":{"field":"v","type":"quantitative","title":"OD450","scale":{"type":"log","domain":[0.0004,0.01,13.3],"range":[193,175,0],"nice":false,"zero":false},"axis":{"title":"OD450","values":[0.001,0.01,0.1,1,10],"tickCount":20,"labelOverlap":false,"format":"~g","labelFontSize":7.5,"titleFontSize":8,"domainColor":"#444444","domainWidth":1.5,"tickColor":"#444444","tickSize":3,"labelPadding":1,"titlePadding":2,"labelColor":"#111111"}}}},
     {"transform":[{"filter":"datum.g != 'Non-IBD controls (n=54)'"}],
      "mark":{"type":"boxplot","extent":"min-max","size":20,"color":"#f4a7a1","box":{"stroke":"#555555","strokeWidth":1},"median":{"color":"#444444"},"rule":{"color":"#555555"},"ticks":{"color":"#555555","size":12}},
      "encoding":{"x":{"field":"g","type":"nominal","title":null},"y":{"field":"v","type":"quantitative","title":"OD450"}}},
     {"data":{"values":[{}]},"mark":{"type":"rule","strokeDash":[2,2],"color":"#333333","strokeWidth":0.8},"encoding":{"y":{"datum":1}}},
     {"transform":[{"window":[{"op":"row_number","as":"rn"}],"groupby":["g"]},{"calculate":"(((datum.rn*7)%11)-5) * (datum.g == 'Non-IBD controls (n=54)' ? ((datum.v > 0.035 && datum.v < 0.45) ? 1.9 : 0) : (datum.v > 3.3 ? 1.9 : 0.3))","as":"jx"}],
      "mark":{"type":"point","filled":true,"size":18,"stroke":"#1a1a1a","strokeWidth":0.5,"opacity":1},
      "encoding":{"x":{"field":"g","type":"nominal","title":null},"xOffset":{"field":"jx","type":"quantitative","scale":{"domain":[-20.5,20.5],"range":[0,41]}},"y":{"field":"v","type":"quantitative","title":"OD450"},"fill":{"field":"g","type":"nominal","scale":{"domain":["Non-IBD controls (n=54)","UC COMPASS (n=55)","UC OSCCAR (n=104)"],"range":["#2f86c8","#e41a1c","#e41a1c"]},"legend":null}}},
     {"data":{"values":[{}]},"mark":{"type":"rule","color":"#999999","strokeWidth":1},"encoding":{"x":{"datum":"Non-IBD controls (n=54)","type":"nominal"},"x2":{"datum":"UC COMPASS (n=55)"},"y":{"datum":6.6,"type":"quantitative"}}},
     {"data":{"values":[{}]},"mark":{"type":"rule","color":"#999999","strokeWidth":1},"encoding":{"x":{"datum":"Non-IBD controls (n=54)","type":"nominal"},"y":{"datum":6.6,"type":"quantitative"},"y2":{"datum":5.2}}},
     {"data":{"values":[{}]},"mark":{"type":"rule","color":"#999999","strokeWidth":1},"encoding":{"x":{"datum":"UC COMPASS (n=55)","type":"nominal"},"y":{"datum":6.6,"type":"quantitative"},"y2":{"datum":5.2}}},
     {"data":{"values":[{}]},"mark":{"type":"rule","color":"#999999","strokeWidth":1},"encoding":{"x":{"datum":"Non-IBD controls (n=54)","type":"nominal"},"x2":{"datum":"UC OSCCAR (n=104)"},"y":{"datum":12.2,"type":"quantitative"}}},
     {"data":{"values":[{}]},"mark":{"type":"rule","color":"#999999","strokeWidth":1},"encoding":{"x":{"datum":"Non-IBD controls (n=54)","type":"nominal"},"y":{"datum":12.2,"type":"quantitative"},"y2":{"datum":10.4}}},
     {"data":{"values":[{}]},"mark":{"type":"rule","color":"#999999","strokeWidth":1},"encoding":{"x":{"datum":"UC OSCCAR (n=104)","type":"nominal"},"y":{"datum":12.2,"type":"quantitative"},"y2":{"datum":10.4}}},
     {"data":{"values":[{"lab":"<0.0001"}]},"mark":{"type":"text","fontSize":7.5,"color":"#111111"},"encoding":{"x":{"datum":"UC COMPASS (n=55)","type":"nominal","bandPosition":0},"y":{"datum":9.2,"type":"quantitative"},"text":{"field":"lab"}}},
     {"data":{"values":[{"lab":"<0.0001"}]},"mark":{"type":"text","fontSize":7.5,"color":"#111111"},"encoding":{"x":{"datum":"UC COMPASS (n=55)","type":"nominal","bandPosition":0.5},"y":{"datum":15.7,"type":"quantitative"},"text":{"field":"lab"}}}
    ]}
  ]},
  {"title":{"text":"B","anchor":"start","frame":"bounds","fontSize":21,"dx":-8,"offset":-1},
   "resolve":{"scale":{"color":"independent"}},"spacing":5,"hconcat":[
   {"width":168,"height":185,
    "layer":[
     {"data":{"values":[{"d":0},{"d":1}]},"mark":{"type":"line","color":"#f4a0a0","strokeWidth":0.9},
      "encoding":{"x":{"field":"d","type":"quantitative","title":"1 - Specificity","scale":{"domain":[0,1],"nice":false,"zero":false},"axis":{"values":[0,0.2,0.4,0.6,0.8,1],"tickCount":20,"labelOverlap":false,"format":".1f","title":"1 - Specificity","domainColor":"#9a9a9a","domainWidth":2,"tickColor":"#9a9a9a","tickWidth":1.5,"tickSize":4,"labelFontSize":7.5,"labelPadding":2,"titleFontSize":7.5,"titlePadding":7}},
       "y":{"field":"d","type":"quantitative","title":"Sensitivity","scale":{"domain":[0,1.101],"nice":false,"zero":false},"axis":{"values":[0,0.2,0.4,0.6,0.8,1],"tickCount":20,"labelOverlap":false,"format":".1f","title":"Sensitivity","domain":false,"tickColor":"#9a9a9a","tickWidth":1.5,"tickSize":4,"labelFontSize":7.5,"labelPadding":2,"titleFontSize":7.5,"titlePadding":5,"titleY":101}}}},
     {"data":{"values":[{}]},"mark":{"type":"rule","color":"#9a9a9a","strokeWidth":2},"encoding":{"x":{"datum":0},"y":{"datum":0},"y2":{"datum":1}}},
     {"data":{"name":"rc"},"mark":{"type":"line","interpolate":"step-after","strokeWidth":2},
      "encoding":{"x":{"field":"fpr","type":"quantitative","title":"1 - Specificity"},"y":{"field":"tpr","type":"quantitative","title":"Sensitivity"},"order":[{"field":"fpr"},{"field":"tpr"}],
       "color":{"field":"lab","type":"nominal","scale":{"range":["#e8110f"]},"legend":{"orient":"bottom-right","title":null,"symbolType":"stroke","symbolStrokeWidth":2,"symbolSize":400,"labelFontSize":7.5,"labelLimit":250,"offset":4,"padding":0}}}},
     {"data":{"values":[{"lab":"COMPASS"}]},"mark":{"type":"text","fontSize":15,"color":"#111111"},"encoding":{"x":{"datum":0.47},"y":{"datum":1.074},"text":{"field":"lab"}}}
    ]},
   {"width":167,"height":185,
    "layer":[
     {"data":{"values":[{"d":0},{"d":1}]},"mark":{"type":"line","color":"#f4a0a0","strokeWidth":0.9},
      "encoding":{"x":{"field":"d","type":"quantitative","title":"1 - Specificity","scale":{"domain":[0,1],"nice":false,"zero":false},"axis":{"values":[0,0.2,0.4,0.6,0.8,1],"tickCount":20,"labelOverlap":false,"format":".1f","title":"1 - Specificity","domainColor":"#9a9a9a","domainWidth":2,"tickColor":"#9a9a9a","tickWidth":1.5,"tickSize":4,"labelFontSize":7.5,"labelPadding":2,"titleFontSize":7.5,"titlePadding":7}},
       "y":{"field":"d","type":"quantitative","title":"Sensitivity","scale":{"domain":[0,1.101],"nice":false,"zero":false},"axis":{"values":[0,0.2,0.4,0.6,0.8,1],"tickCount":20,"labelOverlap":false,"format":".1f","title":"Sensitivity","domain":false,"tickColor":"#9a9a9a","tickWidth":1.5,"tickSize":4,"labelFontSize":7.5,"labelPadding":2,"titleFontSize":7.5,"titlePadding":5,"titleY":101}}}},
     {"data":{"values":[{}]},"mark":{"type":"rule","color":"#9a9a9a","strokeWidth":2},"encoding":{"x":{"datum":0},"y":{"datum":0},"y2":{"datum":1}}},
     {"data":{"name":"ro"},"mark":{"type":"line","interpolate":"step-after","strokeWidth":2},
      "encoding":{"x":{"field":"fpr","type":"quantitative","title":"1 - Specificity"},"y":{"field":"tpr","type":"quantitative","title":"Sensitivity"},"order":[{"field":"fpr"},{"field":"tpr"}],
       "color":{"field":"lab","type":"nominal","scale":{"range":["#e8110f"]},"legend":{"orient":"bottom-right","title":null,"symbolType":"stroke","symbolStrokeWidth":2,"symbolSize":400,"labelFontSize":7.5,"labelLimit":250,"offset":4,"padding":0}}}},
     {"data":{"values":[{"lab":"OSCCAR"}]},"mark":{"type":"text","fontSize":15,"color":"#111111"},"encoding":{"x":{"datum":0.5},"y":{"datum":1.074},"text":{"field":"lab"}}}
    ]}
  ]}
 ]},
 {"title":{"text":"C","anchor":"start","frame":"bounds","fontSize":21,"dx":5,"offset":-1},"spacing":2,"vconcat":[
  {"width":261,"height":143,"view":{"stroke":"#333333","strokeWidth":1.3},
   "encoding":{"x":{"field":"t","type":"quantitative","title":"Time (Days)","scale":{"domain":[-75,1565],"nice":false,"zero":false},"axis":{"values":[0,250,500,750,1000,1250,1500],"tickCount":40,"labelOverlap":false,"format":"d","labelExpr":"datum.value % 500 == 0 ? datum.label : ''","grid":true,"gridColor":{"condition":{"test":"datum.value % 500 == 0","value":"#e2e2e2"},"value":"#efefef"},"gridWidth":{"condition":{"test":"datum.value % 500 == 0","value":1},"value":0.6},"tickColor":{"condition":{"test":"datum.value % 500 == 0","value":"#333333"},"value":"transparent"},"tickSize":2,"domain":false,"labelColor":"#4d4d4d","labelFontSize":8.5,"labelPadding":1,"title":"Time (Days)","titleFontSize":8.5,"titlePadding":1}},
    "color":{"field":"s","type":"nominal","scale":{"domain":["1st Tertile","2nd Tertile","3rd Tertile"],"range":["#2e3a97","#5a5a5a","#e8110f"]},"legend":null}},
   "layer":[
    {"data":{"name":"kc_ci"},"mark":{"type":"area","interpolate":"step-after","opacity":0.3},"encoding":{"y":{"field":"lo","type":"quantitative","title":["Complication-free","survival probability"],"scale":{"domain":[-0.05,1.05],"nice":false,"zero":false},"axis":{"values":[0,0.125,0.25,0.375,0.5,0.625,0.75,0.875,1],"tickCount":40,"labelOverlap":false,"format":".2f","labelExpr":"(datum.value*8) % 2 == 0 ? datum.label : ''","grid":true,"gridColor":{"condition":{"test":"(datum.value*8) % 2 == 0","value":"#e2e2e2"},"value":"#efefef"},"gridWidth":{"condition":{"test":"(datum.value*8) % 2 == 0","value":1},"value":0.6},"tickColor":{"condition":{"test":"(datum.value*8) % 2 == 0","value":"#333333"},"value":"transparent"},"tickSize":2,"domain":false,"labelColor":"#4d4d4d","labelFontSize":8.5,"labelPadding":2,"title":["Complication-free","survival probability"],"titleFontSize":8,"titlePadding":4,"titleLineHeight":9}},"y2":{"field":"hi"}}},
    {"data":{"name":"kc_l"},"mark":{"type":"line","interpolate":"step-after","strokeWidth":1.4},"encoding":{"y":{"field":"p","type":"quantitative","title":["Complication-free","survival probability"]}}},
    {"data":{"name":"kc_c"},"mark":{"type":"point","shape":"M-1,0L1,0M0,-1L0,1","size":30,"strokeWidth":1.1,"filled":false,"opacity":1},"encoding":{"y":{"field":"p","type":"quantitative","title":["Complication-free","survival probability"]}}},
    {"data":{"values":[{"lab":"p = 0.066"}]},"mark":{"type":"text","align":"left","fontSize":8.5},"encoding":{"x":{"datum":37},"y":{"datum":0.07},"text":{"field":"lab"},"color":{"value":"#111111"}}}
   ]},
  {"width":261,"height":29,"view":{"stroke":"#333333","strokeWidth":1.3},
   "title":{"text":"anti-αvβ6\u00a0\u00a0\u00a0\u00a0Number at risk","anchor":"start","frame":"group","fontSize":8.5,"dx":-43,"offset":3},
   "data":{"name":"kc_r"},
   "mark":{"type":"text","fontSize":8.5},
   "encoding":{
    "x":{"field":"t","type":"quantitative","title":"Time (Days)","scale":{"domain":[-75,1565],"nice":false,"zero":false},"axis":{"values":[0,250,500,750,1000,1250,1500],"tickCount":40,"labelOverlap":false,"format":"d","labelExpr":"datum.value % 500 == 0 ? datum.label : ''","grid":true,"gridColor":{"condition":{"test":"datum.value % 500 == 0","value":"#e8e8e8"},"value":"#f2f2f2"},"tickColor":{"condition":{"test":"datum.value % 500 == 0","value":"#333333"},"value":"transparent"},"tickSize":2,"domain":false,"labelColor":"#4d4d4d","labelFontSize":8.5,"labelPadding":1,"title":"Time (Days)","titleFontSize":8.5,"titlePadding":1}},
    "y":{"field":"s","type":"nominal","title":"Strata","scale":{"type":"point","domain":["1st Tertile","2nd Tertile","3rd Tertile"],"padding":0.5},"axis":{"title":"Strata","titleFontSize":9.5,"labelFontSize":8.5,"labelColor":{"condition":[{"test":"datum.value == '1st Tertile'","value":"#2e3a97"},{"test":"datum.value == '3rd Tertile'","value":"#e8110f"}],"value":"#5a5a5a"},"tickColor":"#333333","tickSize":2,"domain":false,"grid":true,"gridColor":"#f0f0f0","labelPadding":1,"titlePadding":9}},
    "text":{"field":"n","type":"quantitative"},
    "color":{"field":"s","type":"nominal","scale":{"domain":["1st Tertile","2nd Tertile","3rd Tertile"],"range":["#2e3a97","#5a5a5a","#e8110f"]},"legend":null}}}
 ]}
]},
{"resolve":{"scale":{"color":"independent","fill":"independent"}},"spacing":50,"hconcat":[
 {"resolve":{"scale":{"color":"independent","fill":"independent"}},"spacing":44,"hconcat":[
  {"resolve":{"scale":{"color":"independent","fill":"independent"}},"spacing":2,"hconcat":[
   {"width":1,"height":1,"data":{"values":[]},"mark":"point"},
   {"title":{"text":"D","anchor":"start","frame":"bounds","fontSize":21,"dx":-12,"offset":-12},"spacing":0,"vconcat":[
    {"width":263,"height":145,"view":{"stroke":"#333333","strokeWidth":1.3},
     "encoding":{"x":{"field":"t","type":"quantitative","title":"Time (days)","scale":{"domain":[-200,4190],"nice":false,"zero":false},"axis":{"values":[0,500,1000,1500,2000,2500,3000,3500,4000],"tickCount":40,"labelOverlap":false,"format":"d","labelExpr":"datum.value % 1000 == 0 ? datum.label : ''","grid":true,"gridColor":{"condition":{"test":"datum.value % 1000 == 0","value":"#e2e2e2"},"value":"#efefef"},"gridWidth":{"condition":{"test":"datum.value % 1000 == 0","value":1},"value":0.6},"tickColor":{"condition":{"test":"datum.value % 1000 == 0","value":"#333333"},"value":"transparent"},"tickSize":2,"domain":false,"labelColor":"#4d4d4d","labelFontSize":8.5,"labelPadding":1,"title":"Time (days)","titleFontSize":8.5,"titlePadding":1}},
      "color":{"field":"s","type":"nominal","scale":{"domain":["1st Tertile","2nd Tertile","3rd Tertile"],"range":["#2e3a97","#5a5a5a","#e8110f"]},"legend":null}},
     "layer":[
      {"data":{"name":"kd_ci"},"mark":{"type":"area","interpolate":"step-after","opacity":0.3},"encoding":{"y":{"field":"lo","type":"quantitative","title":["Complication-free","survival probability"],"scale":{"domain":[-0.05,1.05],"nice":false,"zero":false},"axis":{"values":[0,0.125,0.25,0.375,0.5,0.625,0.75,0.875,1],"tickCount":40,"labelOverlap":false,"format":".2f","labelExpr":"(datum.value*8) % 2 == 0 ? datum.label : ''","grid":true,"gridColor":{"condition":{"test":"(datum.value*8) % 2 == 0","value":"#e2e2e2"},"value":"#efefef"},"gridWidth":{"condition":{"test":"(datum.value*8) % 2 == 0","value":1},"value":0.6},"tickColor":{"condition":{"test":"(datum.value*8) % 2 == 0","value":"#333333"},"value":"transparent"},"tickSize":2,"domain":false,"labelColor":"#4d4d4d","labelFontSize":8.5,"labelPadding":2,"title":["Complication-free","survival probability"],"titleFontSize":8,"titlePadding":4,"titleLineHeight":9}},"y2":{"field":"hi"}}},
      {"data":{"name":"kd_l"},"mark":{"type":"line","interpolate":"step-after","strokeWidth":1.4},"encoding":{"y":{"field":"p","type":"quantitative","title":["Complication-free","survival probability"]}}},
      {"data":{"name":"kd_c"},"mark":{"type":"point","shape":"M-1,0L1,0M0,-1L0,1","size":18,"strokeWidth":1,"filled":false,"opacity":1},"encoding":{"y":{"field":"p","type":"quantitative","title":["Complication-free","survival probability"]}}},
      {"data":{"values":[{"lab":"p = 0.049"}]},"mark":{"type":"text","align":"left","fontSize":8.5},"encoding":{"x":{"datum":72},"y":{"datum":0.19},"text":{"field":"lab"},"color":{"value":"#111111"}}}
     ]},
    {"width":263,"height":30,"view":{"stroke":"#333333","strokeWidth":1.3},
     "title":{"text":"anti-αvβ6\u00a0\u00a0Number at risk","anchor":"start","frame":"group","fontSize":8.5,"dx":-39,"offset":1},
     "data":{"name":"kd_r"},
     "mark":{"type":"text","fontSize":8.5},
     "encoding":{
      "x":{"field":"t","type":"quantitative","title":"Time (days)","scale":{"domain":[-200,4190],"nice":false,"zero":false},"axis":{"values":[0,500,1000,1500,2000,2500,3000,3500,4000],"tickCount":40,"labelOverlap":false,"format":"d","labelExpr":"datum.value % 1000 == 0 ? datum.label : ''","grid":true,"gridColor":{"condition":{"test":"datum.value % 1000 == 0","value":"#e8e8e8"},"value":"#f2f2f2"},"tickColor":{"condition":{"test":"datum.value % 1000 == 0","value":"#333333"},"value":"transparent"},"tickSize":2,"domain":false,"labelColor":"#4d4d4d","labelFontSize":8.5,"labelPadding":1,"title":"Time (days)","titleFontSize":8.5,"titlePadding":1}},
      "y":{"field":"s","type":"nominal","title":"Strata","scale":{"type":"point","domain":["1st Tertile","2nd Tertile","3rd Tertile"],"padding":0.5},"axis":{"title":"Strata","titleFontSize":9.5,"labelFontSize":8.5,"labelColor":{"condition":[{"test":"datum.value == '1st Tertile'","value":"#2e3a97"},{"test":"datum.value == '3rd Tertile'","value":"#e8110f"}],"value":"#5a5a5a"},"tickColor":"#333333","tickSize":2,"domain":false,"grid":true,"gridColor":"#f0f0f0","labelPadding":1,"titlePadding":13}},
      "text":{"field":"n","type":"quantitative"},
      "color":{"field":"s","type":"nominal","scale":{"domain":["1st Tertile","2nd Tertile","3rd Tertile"],"range":["#2e3a97","#5a5a5a","#e8110f"]},"legend":null}}}
   ]}
  ]},
  {"title":{"text":"E","anchor":"start","frame":"bounds","fontSize":21,"dx":-7,"offset":-12},"spacing":0,"vconcat":[
   {"width":263,"height":144,"view":{"stroke":"#333333","strokeWidth":1.3},
    "encoding":{"x":{"field":"t","type":"quantitative","title":"Time (days)","scale":{"domain":[-200,4190],"nice":false,"zero":false},"axis":{"values":[0,500,1000,1500,2000,2500,3000,3500,4000],"tickCount":40,"labelOverlap":false,"format":"d","labelExpr":"datum.value % 1000 == 0 ? datum.label : ''","grid":true,"gridColor":{"condition":{"test":"datum.value % 1000 == 0","value":"#e2e2e2"},"value":"#efefef"},"gridWidth":{"condition":{"test":"datum.value % 1000 == 0","value":1},"value":0.6},"tickColor":{"condition":{"test":"datum.value % 1000 == 0","value":"#333333"},"value":"transparent"},"tickSize":2,"domain":false,"labelColor":"#4d4d4d","labelFontSize":8.5,"labelPadding":1,"title":"Time (days)","titleFontSize":8.5,"titlePadding":1}},
     "color":{"field":"s","type":"nominal","scale":{"domain":["ANCA (-)","ANCA (+)"],"range":["#2e3a97","#e8110f"]},"legend":null}},
    "layer":[
     {"data":{"name":"ke_ci"},"mark":{"type":"area","interpolate":"step-after","opacity":0.3},"encoding":{"y":{"field":"lo","type":"quantitative","title":["Complication-free","survival probability"],"scale":{"domain":[-0.05,1.05],"nice":false,"zero":false},"axis":{"values":[0,0.125,0.25,0.375,0.5,0.625,0.75,0.875,1],"tickCount":40,"labelOverlap":false,"format":".2f","labelExpr":"(datum.value*8) % 2 == 0 ? datum.label : ''","grid":true,"gridColor":{"condition":{"test":"(datum.value*8) % 2 == 0","value":"#e2e2e2"},"value":"#efefef"},"gridWidth":{"condition":{"test":"(datum.value*8) % 2 == 0","value":1},"value":0.6},"tickColor":{"condition":{"test":"(datum.value*8) % 2 == 0","value":"#333333"},"value":"transparent"},"tickSize":2,"domain":false,"labelColor":"#4d4d4d","labelFontSize":8.5,"labelPadding":2,"title":["Complication-free","survival probability"],"titleFontSize":8,"titlePadding":4,"titleLineHeight":9}},"y2":{"field":"hi"}}},
     {"data":{"name":"ke_l"},"mark":{"type":"line","interpolate":"step-after","strokeWidth":1.4},"encoding":{"y":{"field":"p","type":"quantitative","title":["Complication-free","survival probability"]}}},
     {"data":{"name":"ke_c"},"mark":{"type":"point","shape":"M-1,0L1,0M0,-1L0,1","size":18,"strokeWidth":1,"filled":false,"opacity":1},"encoding":{"y":{"field":"p","type":"quantitative","title":["Complication-free","survival probability"]}}},
     {"data":{"values":[{"lab":"p = 0.3"}]},"mark":{"type":"text","align":"left","fontSize":8.5},"encoding":{"x":{"datum":72},"y":{"datum":0.19},"text":{"field":"lab"},"color":{"value":"#111111"}}}
    ]},
   {"width":263,"height":28,"view":{"stroke":"#333333","strokeWidth":1.3},
    "title":{"text":"Number at risk","anchor":"start","frame":"group","fontSize":8.5,"dx":0,"offset":1},
    "data":{"name":"ke_r"},
    "mark":{"type":"text","fontSize":8.5},
    "encoding":{
     "x":{"field":"t","type":"quantitative","title":"Time (days)","scale":{"domain":[-200,4190],"nice":false,"zero":false},"axis":{"values":[0,500,1000,1500,2000,2500,3000,3500,4000],"tickCount":40,"labelOverlap":false,"format":"d","labelExpr":"datum.value % 1000 == 0 ? datum.label : ''","grid":true,"gridColor":{"condition":{"test":"datum.value % 1000 == 0","value":"#e8e8e8"},"value":"#f2f2f2"},"tickColor":{"condition":{"test":"datum.value % 1000 == 0","value":"#333333"},"value":"transparent"},"tickSize":2,"domain":false,"labelColor":"#4d4d4d","labelFontSize":8.5,"labelPadding":1,"title":"Time (days)","titleFontSize":8.5,"titlePadding":1}},
     "y":{"field":"s","type":"nominal","title":"Strata","scale":{"type":"point","domain":["ANCA (-)","ANCA (+)"],"padding":0.5},"axis":{"title":"Strata","titleFontSize":9.5,"labelFontSize":8.5,"labelColor":{"condition":{"test":"datum.value == 'ANCA (-)'","value":"#2e3a97"},"value":"#e8110f"},"tickColor":"#333333","tickSize":2,"domain":false,"grid":true,"gridColor":"#f0f0f0","labelPadding":1,"titlePadding":3}},
     "text":{"field":"n","type":"quantitative"},
     "color":{"field":"s","type":"nominal","scale":{"domain":["ANCA (-)","ANCA (+)"],"range":["#2e3a97","#e8110f"]},"legend":null}}}
  ]}
 ]},
 {"width":177,"height":195,
  "title":{"text":"F","anchor":"start","frame":"bounds","fontSize":21,"dx":-6,"offset":-12},
  "layer":[
   {"data":{"name":"fp"},"mark":{"type":"point","filled":true,"size":30,"color":"#e41a1c","stroke":"#2a2a2a","strokeWidth":0.7,"opacity":1},
    "encoding":{"x":{"field":"x","type":"quantitative","title":"pANCA","scale":{"domain":[0,250],"nice":false,"zero":false},"axis":{"values":[0,50,100,150,200,250],"tickCount":40,"labelOverlap":false,"format":"d","title":"pANCA","domainColor":"#333333","tickColor":"#333333","tickSize":4,"labelFontSize":7.5,"titleFontSize":7.5,"labelPadding":2,"titlePadding":4}},
     "y":{"field":"y","type":"quantitative","title":"anti-αvβ6 (OD450)","scale":{"domain":[0,5.508],"nice":false,"zero":false},"axis":{"values":[0,1,2,3,4,5],"tickCount":40,"labelOverlap":false,"format":"d","title":"anti-αvβ6 (OD450)","domain":false,"tickColor":"#333333","tickSize":4,"labelFontSize":7.5,"titleFontSize":7.5,"titlePadding":4,"titleY":108}}}},
   {"data":{"name":"fr"},"mark":{"type":"line","color":"#333333","strokeWidth":1},"encoding":{"x":{"field":"x","type":"quantitative","title":"pANCA"},"y":{"field":"fit","type":"quantitative","title":"anti-αvβ6 (OD450)"}}},
   {"data":{"name":"fr"},"mark":{"type":"line","color":"#333333","strokeWidth":1},"encoding":{"x":{"field":"x","type":"quantitative","title":"pANCA"},"y":{"field":"lo","type":"quantitative","title":"anti-αvβ6 (OD450)"}}},
   {"data":{"name":"fr"},"mark":{"type":"line","color":"#333333","strokeWidth":1},"encoding":{"x":{"field":"x","type":"quantitative","title":"pANCA"},"y":{"field":"hi","type":"quantitative","title":"anti-αvβ6 (OD450)"}}},
   {"data":{"values":[{}]},"mark":{"type":"rule","color":"#333333","strokeWidth":1},"encoding":{"x":{"datum":0},"y":{"datum":0},"y2":{"datum":5}}},
   {"data":{"values":[{"lab":"r = 0.43"}]},"mark":{"type":"text","align":"left","fontSize":8,"color":"#111111"},"encoding":{"x":{"datum":190},"y":{"datum":1.23},"text":{"field":"lab"}}},
   {"data":{"values":[{"lab":"p < 0.0001"}]},"mark":{"type":"text","align":"left","fontSize":8,"color":"#111111"},"encoding":{"x":{"datum":190},"y":{"datum":0.9},"text":{"field":"lab"}}}
  ]}
]}
]
}
